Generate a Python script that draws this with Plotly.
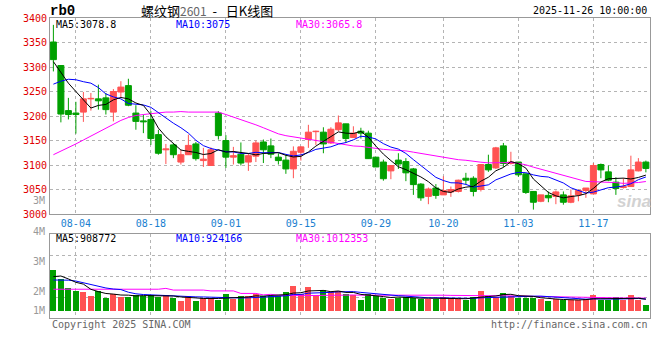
import plotly.graph_objects as go

# ---------------- data ----------------
tick_idx = [3, 13, 23, 33, 43, 52, 62, 72]
tick_text = ["08-04", "08-18", "09-01", "09-15", "09-29", "10-20", "11-03", "11-17"]

opens = [3351, 3303, 3211, 3206, 3208, 3235, 3235, 3237, 3208, 3249,
         3262, 3206, 3190, 3193, 3162, 3131, 3141, 3106, 3121, 3143,
         3109, 3099, 3206, 3150, 3116, 3122, 3106, 3118, 3147, 3139,
         3116, 3110, 3092, 3126, 3152, 3168, 3167, 3145, 3172, 3184,
         3156, 3169, 3165, 3116, 3106, 3088, 3110, 3107, 3092, 3061,
         3036, 3053, 3039, 3045, 3046, 3073, 3073, 3050, 3101, 3094,
         3139, 3103, 3106, 3082, 3046, 3026, 3038, 3036, 3039, 3024,
         3039, 3048, 3041, 3101, 3086, 3065, 3054, 3056, 3088, 3106]
highs = [3386, 3303, 3237, 3229, 3249, 3247, 3264, 3247, 3255, 3271,
         3276, 3222, 3203, 3210, 3172, 3143, 3145, 3131, 3162, 3147,
         3135, 3136, 3210, 3161, 3137, 3146, 3124, 3150, 3152, 3154,
         3124, 3121, 3138, 3138, 3182, 3170, 3177, 3177, 3201, 3184,
         3179, 3176, 3170, 3116, 3111, 3099, 3124, 3114, 3094, 3063,
         3054, 3061, 3077, 3056, 3070, 3084, 3077, 3101, 3121, 3137,
         3145, 3127, 3106, 3082, 3046, 3039, 3046, 3048, 3046, 3050,
         3050, 3053, 3104, 3103, 3099, 3075, 3073, 3119, 3114, 3109]
lows = [3291, 3187, 3193, 3164, 3188, 3211, 3213, 3203, 3189, 3237,
        3220, 3172, 3165, 3141, 3121, 3102, 3114, 3101, 3121, 3109,
        3096, 3099, 3152, 3094, 3101, 3099, 3088, 3106, 3104, 3114,
        3101, 3082, 3073, 3109, 3135, 3141, 3124, 3143, 3169, 3145,
        3155, 3154, 3113, 3096, 3068, 3071, 3092, 3067, 3039, 3027,
        3020, 3031, 3039, 3035, 3044, 3060, 3036, 3046, 3086, 3092,
        3096, 3101, 3076, 3041, 3009, 3024, 3024, 3020, 3019, 3022,
        3026, 3033, 3041, 3073, 3067, 3039, 3052, 3056, 3087, 3085]
closes = [3315, 3204, 3203, 3203, 3235, 3236, 3231, 3213, 3250, 3259,
          3222, 3189, 3188, 3154, 3124, 3133, 3121, 3121, 3140, 3113,
          3112, 3131, 3160, 3116, 3119, 3104, 3119, 3145, 3131, 3122,
          3109, 3092, 3128, 3137, 3167, 3169, 3143, 3173, 3186, 3154,
          3165, 3165, 3113, 3096, 3072, 3099, 3102, 3084, 3060, 3033,
          3051, 3038, 3048, 3050, 3069, 3069, 3046, 3101, 3090, 3135,
          3103, 3106, 3080, 3044, 3024, 3039, 3033, 3045, 3024, 3037,
          3048, 3053, 3099, 3090, 3069, 3052, 3056, 3090, 3106, 3093]
volumes = [2.29, 1.84, 1.41, 1.29, 1.24, 1.05, 1.29, 0.97, 1.14, 1.02,
           1.02, 1.10, 1.05, 1.10, 1.02, 1.10, 0.97, 0.83, 1.05, 0.83,
           0.97, 0.94, 0.86, 1.14, 0.89, 1.05, 1.06, 1.14, 1.06, 1.06,
           1.06, 1.24, 1.52, 1.14, 1.48, 1.10, 1.33, 1.22, 1.30, 1.14,
           1.10, 0.86, 1.14, 1.05, 0.94, 0.89, 0.97, 1.02, 0.94, 0.90,
           0.90, 0.90, 1.02, 0.90, 0.90, 0.86, 1.00, 1.30, 1.06, 1.02,
           1.21, 1.05, 0.97, 0.97, 0.94, 0.90, 0.81, 0.90, 0.86, 0.86,
           0.86, 0.90, 1.10, 0.86, 0.86, 1.02, 0.86, 1.10, 0.86, 0.62]  # millions

# moving-average values at the start of the window (depend on earlier days)
ma5_head = [3311, 3290, 3267, 3250]
ma10_head = [3265, 3271, 3275, 3274, 3270, 3267, 3258, 3245, 3239]
ma30_head = [3121, 3128, 3135, 3143, 3151, 3159, 3166, 3174, 3182, 3191,
             3197, 3201, 3203, 3205, 3207, 3208, 3208, 3209, 3208, 3208,
             3208, 3209, 3208, 3203, 3198, 3193, 3188, 3182, 3176]
vma5_head = [1.97, 2.00, 1.86, 1.70]
vma10_head = [1.81, 1.81, 1.80, 1.76, 1.68, 1.57, 1.49, 1.43, 1.38]
vma30_head = [1.37, 1.37, 1.37, 1.37, 1.37, 1.37, 1.37, 1.37, 1.37, 1.37,
              1.37, 1.37, 1.37, 1.37, 1.37, 1.41, 1.33, 1.33, 1.33, 1.33,
              1.33, 1.29, 1.29, 1.29, 1.29, 1.17, 1.17, 1.17, 1.10]

# ---------------- derived ----------------
N = len(closes)
idx = list(range(N))


def moving(vals, n, head):
    out = list(head)
    for i in range(len(head), len(vals)):
        out.append(sum(vals[i - n + 1:i + 1]) / n)
    return out


ma5 = moving(closes, 5, ma5_head)
ma10 = moving(closes, 10, ma10_head)
ma30 = moving(closes, 30, ma30_head)
vol = [v * 1e6 for v in volumes]
vma5 = [v * 1e6 for v in moving(volumes, 5, vma5_head)]
vma10 = [v * 1e6 for v in moving(volumes, 10, vma10_head)]
vma30 = [v * 1e6 for v in moving(volumes, 30, vma30_head)]

RED = "#ff5252"
GREEN = "#00a000"
up = [c >= o for o, c in zip(opens, closes)]
colors = [RED if u else GREEN for u in up]

MONO = "DejaVu Sans Mono, monospace"
GRID = "#b4b4b4"
FRAME = "#999999"

fig = go.Figure()

# wicks
for flag, col in ((True, RED), (False, GREEN)):
    xs, ys = [], []
    for i in idx:
        if up[i] == flag:
            xs += [i, i, None]
            ys += [lows[i], highs[i], None]
    fig.add_trace(go.Scatter(x=xs, y=ys, mode="lines", line=dict(color=col, width=1),
                             hoverinfo="skip", showlegend=False, xaxis="x", yaxis="y"))

# candle bodies
fig.add_trace(go.Bar(
    x=idx, base=[min(o, c) for o, c in zip(opens, closes)],
    y=[abs(c - o) for o, c in zip(opens, closes)],
    width=0.8, marker=dict(color=colors, line=dict(color=colors, width=1)),
    showlegend=False, xaxis="x", yaxis="y"))

# price MAs
for series, col in ((ma30, "#ff00ff"), (ma10, "#0000ff"), (ma5, "#000000")):
    fig.add_trace(go.Scatter(x=idx, y=series, mode="lines", line=dict(color=col, width=1),
                             showlegend=False, xaxis="x", yaxis="y"))

# volume bars
VOL_BASE = 0.33e6
fig.add_trace(go.Bar(
    x=idx, base=VOL_BASE, y=[v - VOL_BASE for v in vol], width=0.8,
    marker=dict(color=colors, line=dict(width=0)),
    showlegend=False, xaxis="x2", yaxis="y2"))

for series, col in ((vma30, "#ff00ff"), (vma10, "#0000ff"), (vma5, "#000000")):
    fig.add_trace(go.Scatter(x=idx, y=series, mode="lines", line=dict(color=col, width=1),
                             showlegend=False, xaxis="x2", yaxis="y2"))

# ---------------- layout ----------------
L, R, T, B = 50, 650, 18, 318


def px(x):
    return (x - L) / (R - L)


def py(y):
    return (B - y) / (B - T)


price_dom = [py(214), 1.0]
vol_dom = [0.0, py(234)]
xrange_ = [-0.45, 79.55]

axis_common = dict(showline=True, mirror=True, linecolor=FRAME, linewidth=1,
                   showgrid=True, gridcolor=GRID, gridwidth=1, griddash="dot",
                   zeroline=False, ticks="", fixedrange=True, automargin=False)

fig.update_layout(
    width=660, height=360,
    margin=dict(l=L, r=660 - R, t=T, b=360 - B),
    paper_bgcolor="white", plot_bgcolor="white",
    bargap=0, barmode="overlay",
    xaxis=dict(domain=[0, 1], range=xrange_, anchor="y", tickvals=tick_idx, ticktext=tick_text,
               tickfont=dict(family=MONO, size=10, color="#1a7fd0"), **axis_common),
    yaxis=dict(domain=price_dom, range=[3000, 3400], anchor="x",
               tickvals=list(range(3000, 3401, 50)),
               tickfont=dict(family=MONO, size=10, color="#e00000"), **axis_common),
    xaxis2=dict(domain=[0, 1], range=xrange_, anchor="y2", tickvals=tick_idx,
                showticklabels=False, **axis_common),
    yaxis2=dict(domain=vol_dom, range=[0, 4e6], anchor="x2", tickvals=[1e6, 2e6, 3e6],
                showticklabels=False, **axis_common),
)

ann = []


def text(x, y, s, color="#000", size=10, anchor="left", family=MONO, **kw):
    ann.append(dict(x=px(x), y=py(y), xref="paper", yref="paper", text=s, showarrow=False,
                    xanchor=anchor, yanchor="middle",
                    font=dict(family=family, size=size, color=color), **kw))


text(48, 11, "<b>rb0</b>", size=14, family="Liberation Mono, monospace")
text(139, 10, "螺纹钢<span style='color:#666;font-size:12px'>2601</span>&nbsp;&nbsp;-&nbsp;&nbsp;&nbsp;日K线图",
     size=13, anchor="left", family="Noto Sans CJK SC, sans-serif")
text(649, 11, "2025-11-26 10:00:00", anchor="right")
text(54, 24, "MA5:3078.8")
text(174, 24, "MA10:3075", color="#0000ff")
text(294, 24, "MA30:3065.8", color="#ff00ff")
text(54, 238, "MA5:908772")
text(174, 238, "MA10:924166", color="#0000ff")
text(294, 238, "MA30:1012353", color="#ff00ff")
text(47, 200, "3M", color="#999", anchor="right")
for lab, yy in (("4M", 231), ("3M", 261), ("2M", 291), ("1M", 310)):
    text(47, yy, lab, color="#999", anchor="right")
text(50, 324, "Copyright 2025 SINA.COM", color="#666")
text(650, 324, "http://finance.sina.com.cn", color="#666", anchor="right")
text(634, 201, "<b><i>sina</i></b>", color="#d2d2d2", size=17, anchor="center",
     family="Liberation Sans, sans-serif")

fig.update_layout(annotations=ann)
fig.write_html("out.html", config={"displayModeBar": False, "staticPlot": True},
               post_script="document.body.style.margin='0';document.body.style.overflow='hidden';")
